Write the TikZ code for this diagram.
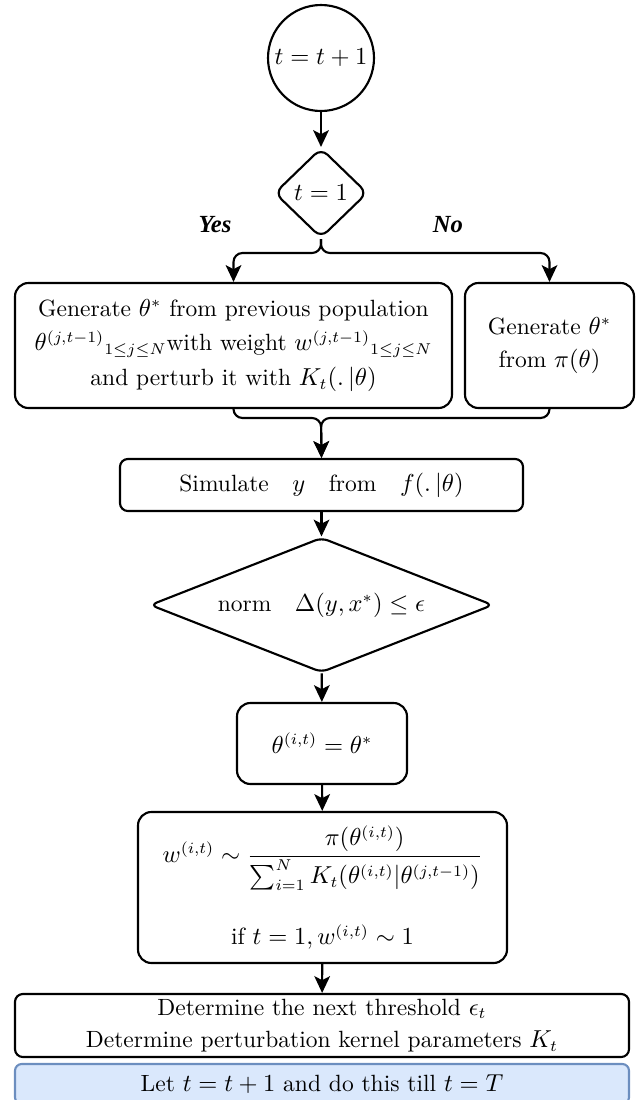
\documentclass[tikz,border=0pt]{standalone}
\usepackage{amsmath}
\usepackage{fontspec}
\newfontfamily\yesfont{Liberation Serif}
\usetikzlibrary{shapes.geometric,arrows.meta,calc}
\newdimen\pxu \pxu=0.0157cm
\definecolor{bluefill}{HTML}{DAE8FC}
\definecolor{blueline}{HTML}{6C8EBF}
\begin{document}
\begin{tikzpicture}[x=0.0157cm,y=-0.0157cm,
  line width=0.95pt,
  every node/.style={font=\fontsize{10.5}{12.6}\selectfont},
  arr/.style={-{Stealth[length=7.5pt,width=7pt,inset=1.8pt]}},
  circ/.style={draw, circle, inner sep=0pt, minimum size=106\pxu},
  dia/.style={draw, diamond, aspect=1, inner sep=0pt, rounded corners=4pt},
  rbox/.style={draw, rounded corners=6pt, align=center, inner sep=0pt},
  sbox/.style={draw, rounded corners=3.5pt, align=center, inner sep=0pt},
  lbl/.style={font=\yesfont\bfseries\itshape\fontsize{11}{12}\selectfont, inner sep=0pt},
  conn/.style={rounded corners=4pt}
]
\clip (0,0) rectangle (637,1100);

\node[circ] (c) at (321,58) {$t=t+1$};
\node[dia, minimum width=93\pxu, minimum height=90\pxu] (d1) at (321,193) {$t=1$};
\node[lbl] (yes) at (215,225) {Yes};
\node[lbl] (no) at (448,225) {No};

\node[rbox, minimum width=437\pxu, minimum height=125\pxu] (lb) at (233.5,345.5)
  {Generate $\theta^*$ from previous population\\[3pt]
   $\theta^{(j,t-1)}{}_{1\leq j\leq N}$with weight $w^{(j,t-1)}{}_{1\leq j\leq N}$\\[3pt]
   and perturb it with $K_t(.\,|\theta)$};
\node[rbox, minimum width=169\pxu, minimum height=125\pxu] (rb) at (549.5,345.5)
  {Generate $\theta^*$\\[2pt] from $\pi(\theta)$};

\node[sbox, minimum width=403\pxu, minimum height=52\pxu] (sim) at (321.5,485)
  {Simulate\quad $y$\quad from\quad $f(.\,|\theta)$};

\node[dia, minimum width=343\pxu, minimum height=135\pxu, aspect=2.5, rounded corners=3pt] (nd) at (321.5,605)
  {norm\quad $\Delta(y,x^*)\leq\epsilon$};

\node[rbox, minimum width=170\pxu, minimum height=81\pxu] (tb) at (322,743.5)
  {$\theta^{(i,t)}=\theta^*$};

\node[rbox, minimum width=369\pxu, minimum height=151\pxu] (wb) at (322.5,887.5)
  {$w^{(i,t)}\sim\dfrac{\pi(\theta^{(i,t)})}{\sum\nolimits_{i=1}^{N}K_t(\theta^{(i,t)}|\theta^{(j,t-1)})}$\\[14pt]
   if $t=1, w^{(i,t)}\sim 1$};

\node[sbox, minimum width=614\pxu, minimum height=63\pxu] (det) at (322,1025.5)
  {Determine the next threshold $\epsilon_t$\\[2pt]
   Determine perturbation kernel parameters $K_t$};

\node[sbox, draw=blueline, fill=bluefill, rounded corners=3pt, minimum width=614\pxu, minimum height=40\pxu] (let) at (322,1084)
  {Let $t=t+1$ and do this till $t=T$};

\coordinate (jy) at (321,253);
\coordinate (mj) at (321,418);

\draw[arr] (c) -- (d1);
\draw[arr, conn] (d1.south) -- (jy) -| (lb.north);
\draw[arr, conn] (d1.south) -- (jy) -| (rb.north);
\draw[arr, conn] (lb.south) |- (mj) -- (sim.north);
\draw[arr, conn] (rb.south) |- (mj) -- (sim.north);
\draw[arr] (sim) -- (nd);
\draw[arr] (nd) -- (tb);
\draw[arr] (tb) -- (wb);
\draw[arr] (wb) -- (det);
\end{tikzpicture}
\end{document}
